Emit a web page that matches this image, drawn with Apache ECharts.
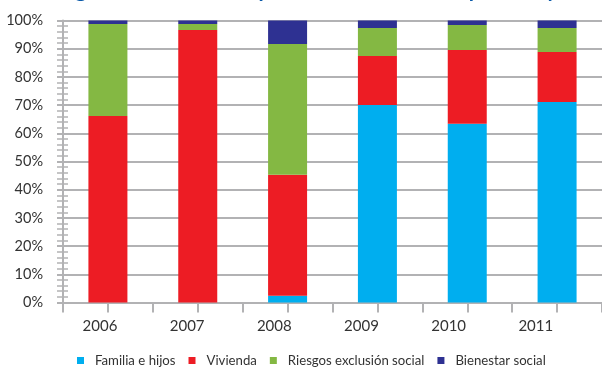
<!DOCTYPE html>
<html>
<head>
<meta charset="utf-8">
<script src="https://cdn.jsdelivr.net/npm/echarts@6/dist/echarts.min.js"></script>
<style>
  html, body { margin: 0; padding: 0; background: #ffffff; }
  #chart { width: 602px; height: 367px; }
</style>
</head>
<body>
<div id="chart"></div>
<script>
// Years shown on the category axis
const years = ['2006', '2007', '2008', '2009', '2010', '2011'];

// Share of the yearly total per area (%)
const familiaHijos      = [0.0,  0.0,  2.4, 70.0, 63.4, 71.1];
const vivienda          = [66.1, 96.6, 42.9, 17.4, 26.1, 17.7];
const riesgosExclusion  = [32.7, 2.2,  46.4, 9.9,  8.9,  8.5];
const bienestarSocial   = [1.2,  1.2,  8.3,  2.7,  1.6,  2.7];

// Series names as shown in the legend
const seriesNames = ['Familia e hijos', 'Vivienda', 'Riesgos exclusión social', 'Bienestar social'];
const seriesColors = ['#00aeef', '#ed1c24', '#84b843', '#2e3192'];

const titleText = 'Total según el área de cada prestación social en el periodo y año';

const FONT = 'Lato, "Open Sans", sans-serif';
const GRID_GRAY = '#b2b2b4';

const chart = echarts.init(document.getElementById('chart'), null, { renderer: 'canvas' });

const valueSets = [familiaHijos, vivienda, riesgosExclusion, bienestarSocial];

const option = {
  animation: false,
  backgroundColor: '#ffffff',
  textStyle: { fontFamily: FONT },
  graphic: [{
    type: 'text',
    x: 4,
    y: -9.5,
    silent: true,
    style: {
      text: titleText,
      font: 'bold 21px ' + FONT,
      fill: '#0b5aa9',
      verticalAlign: 'middle'
    }
  }],
  legend: {
    left: 77,
    top: 354,
    padding: 0,
    icon: 'rect',
    itemWidth: 7,
    itemHeight: 7,
    itemGap: 13,
    data: seriesNames,
    textStyle: {
      fontFamily: FONT,
      fontSize: 13.2,
      color: '#333333',
      padding: [0, 0, 0, 6]
    }
  },
  grid: [
    // plot area for the bars
    { left: 63, top: 20.5, width: 546, height: 282 },
    // companion area carrying the year labels
    { left: 56.4, top: 20.5, width: 523, height: 282 }
  ],
  xAxis: [
    {
      type: 'category',
      gridIndex: 0,
      position: 'bottom',
      data: years,
      axisLine: { show: true, lineStyle: { color: GRID_GRAY, width: 2 } },
      axisTick: { show: true, alignWithLabel: false, length: 10, lineStyle: { color: GRID_GRAY, width: 2 } },
      axisLabel: { show: false }
    },
    {
      type: 'category',
      gridIndex: 0,
      position: 'bottom',
      data: years,
      axisLine: { show: false },
      axisTick: { show: true, alignWithLabel: true, length: 10, lineStyle: { color: GRID_GRAY, width: 2 } },
      axisLabel: { show: false }
    },
    {
      type: 'category',
      gridIndex: 1,
      position: 'bottom',
      data: years,
      axisLine: { show: false },
      axisTick: { show: false },
      axisLabel: { show: true, margin: 16, fontSize: 15, color: '#333333', fontFamily: FONT }
    }
  ],
  yAxis: [
    {
      type: 'value',
      gridIndex: 0,
      position: 'left',
      min: 0,
      max: 100,
      interval: 10,
      axisLine: { show: true, lineStyle: { color: GRID_GRAY, width: 2 } },
      axisTick: { show: true, inside: false, length: 6, lineStyle: { color: GRID_GRAY, width: 2 } },
      minorTick: { show: true, splitNumber: 5, length: 6, lineStyle: { color: GRID_GRAY, width: 1.5 } },
      splitLine: { show: true, lineStyle: { color: GRID_GRAY, width: 2 } },
      axisLabel: { formatter: '{value}%', margin: 20, fontSize: 14.5, color: '#333333', fontFamily: FONT }
    },
    {
      type: 'value',
      gridIndex: 0,
      position: 'left',
      min: 0,
      max: 100,
      interval: 10,
      axisLine: { show: false },
      axisTick: { show: true, inside: true, length: 5, lineStyle: { color: GRID_GRAY, width: 2 } },
      minorTick: { show: true, splitNumber: 5, length: 5, lineStyle: { color: GRID_GRAY, width: 1.5 } },
      splitLine: { show: false },
      axisLabel: { show: false }
    },
    {
      type: 'value',
      gridIndex: 1,
      min: 0,
      max: 100,
      show: false
    }
  ],
  series: seriesNames.map((name, i) => ({
    name: name,
    type: 'bar',
    stack: 'total',
    xAxisIndex: 0,
    yAxisIndex: 0,
    barWidth: 39,
    itemStyle: { color: seriesColors[i] },
    data: valueSets[i]
  }))
};

chart.setOption(option);
</script>
</body>
</html>
